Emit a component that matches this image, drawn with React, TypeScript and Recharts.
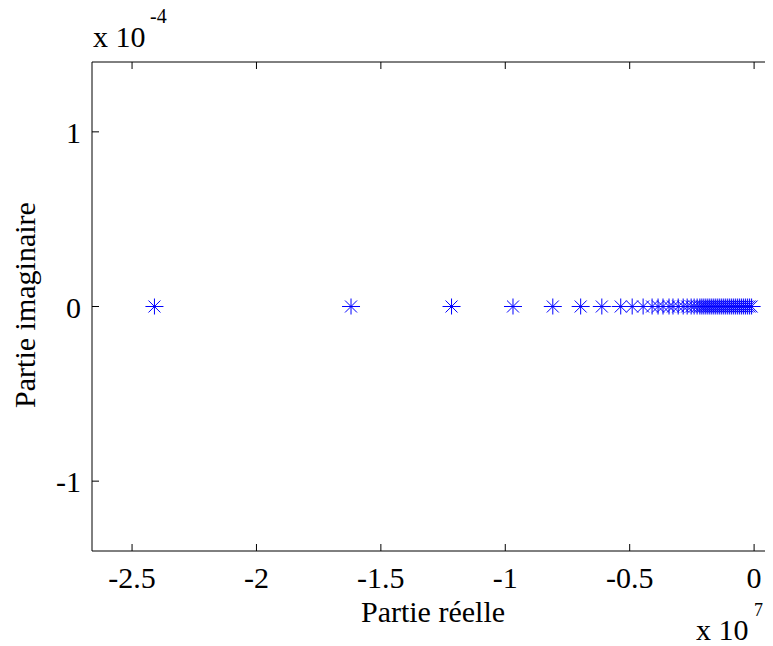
import { ScatterChart, Scatter, XAxis, YAxis } from "recharts";

// poles, real part (x 10^7) and imaginary part (x 10^-4)
const realPart = [
  -2.41, -1.62, -1.216, -0.969, -0.809, -0.697, -0.612, -0.536, -0.49, -0.446,
  -0.41, -0.386, -0.366, -0.342, -0.326, -0.305, -0.285, -0.269, -0.253, -0.241,
  -0.229, -0.218, -0.21, -0.202, -0.194, -0.186, -0.178, -0.17, -0.162, -0.154,
  -0.146, -0.138, -0.13, -0.122, -0.114, -0.106, -0.098, -0.09, -0.082, -0.074,
  -0.066, -0.058, -0.05, -0.042, -0.034, -0.026, -0.018, -0.01,
];
const imagPart = [
  0, 0, 0, 0, 0, 0, 0, 0, 0, 0, 0, 0, 0, 0, 0, 0, 0, 0, 0, 0, 0, 0, 0, 0,
  0, 0, 0, 0, 0, 0, 0, 0, 0, 0, 0, 0, 0, 0, 0, 0, 0, 0, 0, 0, 0, 0, 0, 0,
];
const xTicks = [-2.5, -2, -1.5, -1, -0.5, 0];
const yTicks = [-1, 0, 1];

const data = realPart.map((x, i) => ({ x, y: imagPart[i] }));

const FONT = "Liberation Serif, DejaVu Serif, Times New Roman, serif";
const FS = 30;
const TOP = 62;
const BOTTOM = 551;
const LEFT = 92;
const RIGHT = 774;
const TICK = 7;

const BottomTick = (props: any) => {
  const { x, payload } = props;
  return (
    <g>
      <line x1={x} x2={x} y1={BOTTOM} y2={BOTTOM - TICK} stroke="#000" />
      <text x={x} y={BOTTOM + 37} textAnchor="middle" style={{ fontFamily: FONT }} fontSize={FS} fill="#000">
        {String(payload.value)}
      </text>
    </g>
  );
};

const TopTick = (props: any) => (
  <line x1={props.x} x2={props.x} y1={TOP} y2={TOP + TICK} stroke="#000" />
);

const LeftTick = (props: any) => {
  const { y, payload } = props;
  return (
    <g>
      <line x1={LEFT} x2={LEFT + TICK} y1={y} y2={y} stroke="#000" />
      <text x={LEFT - 11} y={y + 11} textAnchor="end" style={{ fontFamily: FONT }} fontSize={FS} fill="#000">
        {String(payload.value)}
      </text>
    </g>
  );
};

const RightTick = (props: any) => (
  <line x1={RIGHT} x2={RIGHT - TICK} y1={props.y} y2={props.y} stroke="#000" />
);

const Star = (props: any) => {
  const { cx, cy } = props;
  const d = `M${cx - 9},${cy}H${cx + 9}M${cx},${cy - 8}V${cy + 8}M${cx - 6},${cy - 6}L${cx + 6},${cy + 6}M${cx - 6},${cy + 6}L${cx + 6},${cy - 6}`;
  return <path d={d} stroke="#0000ff" strokeWidth={1} fill="none" />;
};

const txt: React.CSSProperties = {
  position: "absolute",
  fontFamily: FONT,
  fontSize: FS,
  lineHeight: 1,
  whiteSpace: "nowrap",
  color: "#000",
};

export default function App() {
  return (
    <div
      style={{
        position: "relative",
        width: 773,
        height: 646,
        margin: "-8px 0 0 -8px",
        overflow: "hidden",
        background: "#fff",
      }}
    >
      <ScatterChart
        width={775}
        height={646}
        margin={{ top: TOP - 30, right: 0, bottom: 646 - BOTTOM - 30, left: LEFT - 60 }}
      >
        <XAxis
          xAxisId="b"
          type="number"
          dataKey="x"
          domain={[-2.661, 0.08]}
          ticks={xTicks}
          height={30}
          tickSize={0}
          tickMargin={0}
          tick={<BottomTick />}
          axisLine={{ stroke: "#000" }}
          allowDataOverflow
        />
        <XAxis
          xAxisId="t"
          orientation="top"
          type="number"
          dataKey="x"
          domain={[-2.661, 0.08]}
          ticks={xTicks}
          height={30}
          tickSize={0}
          tick={<TopTick />}
          axisLine={{ stroke: "#000" }}
          allowDataOverflow
        />
        <YAxis
          yAxisId="l"
          type="number"
          dataKey="y"
          domain={[-1.4, 1.4]}
          ticks={yTicks}
          width={60}
          tickSize={0}
          tick={<LeftTick />}
          axisLine={{ stroke: "#000" }}
          allowDataOverflow
        />
        <YAxis
          yAxisId="r"
          orientation="right"
          type="number"
          dataKey="y"
          domain={[-1.4, 1.4]}
          ticks={yTicks}
          width={1}
          tickSize={0}
          tick={<RightTick />}
          axisLine={{ stroke: "#000" }}
          allowDataOverflow
        />
        <Scatter
          data={data}
          xAxisId="b"
          yAxisId="l"
          shape={<Star />}
          isAnimationActive={false}
        />
      </ScatterChart>

      <div style={{ ...txt, left: 93, top: 22 }}>x 10</div>
      <div style={{ ...txt, left: 150, top: 6, fontSize: 20 }}>-4</div>
      <div style={{ ...txt, left: 696, top: 615 }}>x 10</div>
      <div style={{ ...txt, left: 754, top: 601, fontSize: 18 }}>7</div>
      <div style={{ ...txt, left: 433, top: 612, transform: "translate(-50%, -50%)" }}>
        Partie réelle
      </div>
      <div
        style={{
          ...txt,
          left: 25,
          top: 305,
          transform: "translate(-50%, -50%) rotate(-90deg)",
        }}
      >
        Partie imaginaire
      </div>
    </div>
  );
}
